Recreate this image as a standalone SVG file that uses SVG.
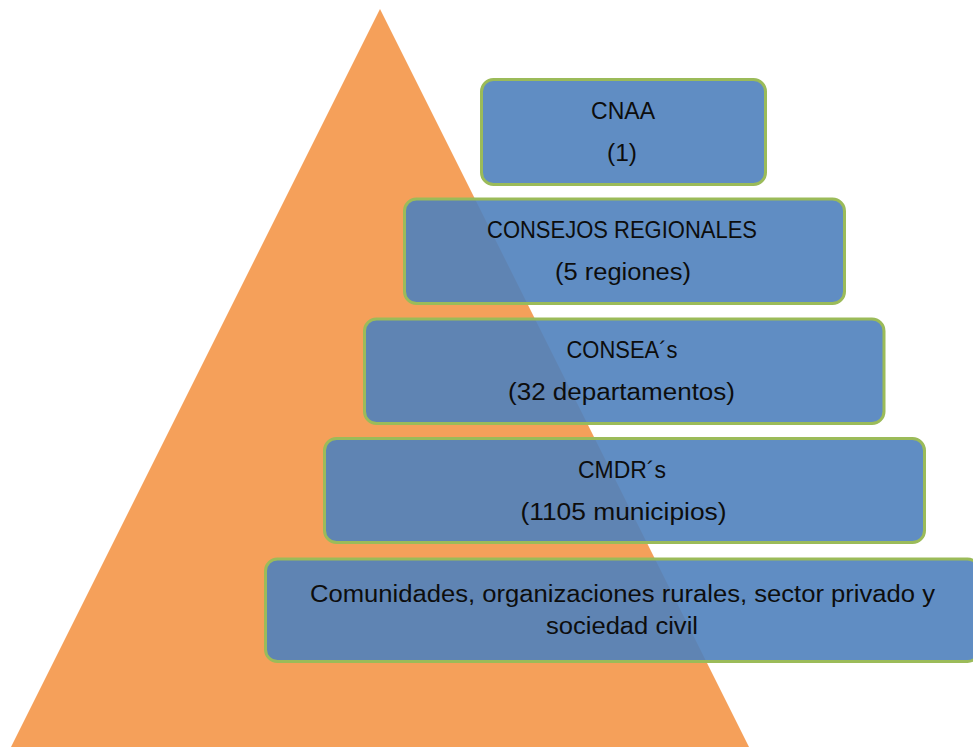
<svg xmlns="http://www.w3.org/2000/svg" width="973" height="747" viewBox="0 0 973 747">
<defs>
<style>
.box{fill:#4F81BD;fill-opacity:0.9;stroke:#9BBB59;stroke-width:3}
.t{font-family:"Liberation Sans",Arial,sans-serif;font-size:23px;fill:#0d0d0d;text-anchor:middle}
</style>
</defs>
<rect width="973" height="747" fill="#ffffff"/>
<polygon id="piramide" points="380,9 11,747 749,747" fill="#F5A05A"/>
<g id="connectors"></g>
<g id="cnaa">
<rect class="box" x="481.5" y="79.5" width="284" height="105" rx="12"/>
<text class="t" x="623" y="119" textLength="64" lengthAdjust="spacingAndGlyphs">CNAA</text>
<text class="t" x="622" y="161" textLength="30" lengthAdjust="spacingAndGlyphs">(1)</text>
</g>
<g id="consejos">
<rect class="box" x="404.5" y="199" width="440" height="104.5" rx="12"/>
<text class="t" x="622" y="238" textLength="270" lengthAdjust="spacingAndGlyphs">CONSEJOS REGIONALES</text>
<text class="t" x="623" y="280" textLength="136" lengthAdjust="spacingAndGlyphs">(5 regiones)</text>
</g>
<g id="consea">
<rect class="box" x="364.5" y="319" width="519.5" height="104.5" rx="12"/>
<text class="t" x="622" y="358" textLength="111" lengthAdjust="spacingAndGlyphs">CONSEA´s</text>
<text class="t" x="621.5" y="400" textLength="227" lengthAdjust="spacingAndGlyphs">(32 departamentos)</text>
</g>
<g id="cmdr">
<rect class="box" x="324.5" y="438.5" width="600" height="104" rx="12"/>
<text class="t" x="622" y="478" textLength="88" lengthAdjust="spacingAndGlyphs">CMDR´s</text>
<text class="t" x="623.5" y="520" textLength="206" lengthAdjust="spacingAndGlyphs">(1105 municipios)</text>
</g>
<g id="comunidades">
<rect class="box" x="265.5" y="559" width="714" height="102.5" rx="12"/>
<text class="t" x="622.5" y="602" textLength="625" lengthAdjust="spacingAndGlyphs">Comunidades, organizaciones rurales, sector privado y</text>
<text class="t" x="622" y="634" textLength="152" lengthAdjust="spacingAndGlyphs">sociedad civil</text>
</g>
</svg>
